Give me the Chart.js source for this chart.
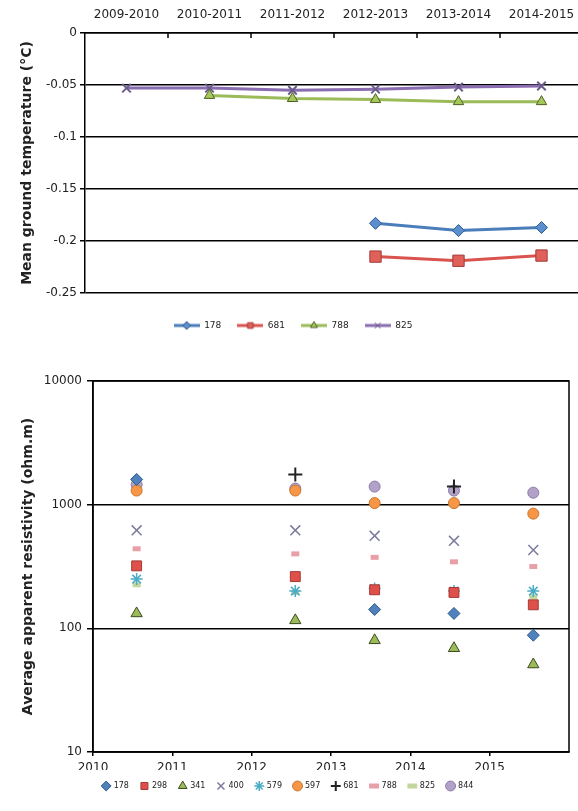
<!DOCTYPE html>
<html><head><meta charset="utf-8">
<script src="https://cdn.jsdelivr.net/npm/chart.js@4.4.1/dist/chart.umd.min.js"></script>
<style>
html,body{margin:0;padding:0;background:#fff;width:578px;height:811px;overflow:hidden;position:relative;}
#c1{position:absolute;left:0;top:0;}
#c2{position:absolute;left:0;top:350px;}
</style></head><body>
<canvas id="c1" width="592" height="340"></canvas>
<canvas id="c2" width="578" height="461"></canvas>
<script>
// ---------- Top chart data ----------
const seasons = ['2009-2010','2010-2011','2011-2012','2012-2013','2013-2014','2014-2015'];
const temp178 = [null, null, null, -0.183, -0.190, -0.187];
const temp681 = [null, null, null, -0.215, -0.219, -0.214];
const temp788 = [null, -0.060, -0.063, -0.064, -0.066, -0.066];
const temp825 = [-0.053, -0.053, -0.055, -0.054, -0.052, -0.051];
const tempTicks = [0, -0.05, -0.1, -0.15, -0.2, -0.25];

// ---------- Bottom chart data ----------
const measureYears = [2010.55, 2012.55, 2013.55, 2014.55, 2015.55];
const res178 = [1600, null, 142, 132, 88];
const res298 = [320, 262, 205, 195, 155];
const res341 = [132, 116, 80, 69, 51];
const res400 = [620, 620, 560, 510, 430];
const res579 = [250, 200, 210, 200, 200];
const res597 = [1300, 1300, 1030, 1030, 846];
const res681 = [null, 1750, null, 1400, null];
const res788 = [440, 400, 375, 345, 316];
const res825 = [225, 195, 215, 190, 180];
const res844 = [1450, 1350, 1400, 1300, 1250];
const yearTicks = [2010, 2011, 2012, 2013, 2014, 2015];
const resTicks = [10, 100, 1000, 10000];

const TICK_FONT = {family: 'DejaVu Sans', size: 12};
const TITLE_FONT = {family: 'DejaVu Sans', size: 14, weight: 'bold'};
const TXT = '#222';

// legend icon: line with marker in the middle
function legendIcon(line, style, fill, stroke, r) {
  const c = document.createElement('canvas');
  c.width = 26; c.height = 12;
  const g = c.getContext('2d');
  g.strokeStyle = line; g.lineWidth = 3;
  g.beginPath(); g.moveTo(0, 6); g.lineTo(26, 6); g.stroke();
  g.fillStyle = fill; g.strokeStyle = stroke; g.lineWidth = 1;
  Chart.helpers.drawPoint(g, {pointStyle: style, radius: r, borderWidth: 1, rotation: 0}, 13, 6);
  return c;
}

const topSeries = [
  {label: '178', data: temp178, line: '#4a7ebb', style: 'rectRot', fill: '#5b8fd0', stroke: '#2f5a8a', r: 6},
  {label: '681', data: temp681, line: '#d9534f', style: 'rect', fill: '#e0605a', stroke: '#a33a36', r: 8},
  {label: '788', data: temp788, line: '#9bbb59', style: 'triangle', fill: '#a5c85a', stroke: '#4d5f26', r: 6},
  {label: '825', data: temp825, line: '#8a6cb0', style: 'crossRot', fill: '#8064a2', stroke: '#6a5a8a', r: 6}
];
const topIcons = topSeries.map(s => legendIcon(s.line, s.style, s.fill, s.stroke, 4));

const innerTicks = {
  id: 'innerTicks',
  afterDraw(chart) {
    const sx = chart.scales.x, ca = chart.chartArea, ctx = chart.ctx;
    const step = sx.getPixelForValue(1) - sx.getPixelForValue(0);
    ctx.save(); ctx.strokeStyle = '#000'; ctx.lineWidth = 1.5;
    for (let i = 0; i < seasons.length; i++) {
      const x = sx.getPixelForValue(i) + step / 2;
      ctx.beginPath(); ctx.moveTo(x, ca.top); ctx.lineTo(x, ca.top + 5); ctx.stroke();
    }
    ctx.restore();
  }
};

new Chart(document.getElementById('c1'), {
  type: 'line',
  data: {
    labels: seasons,
    datasets: topSeries.map(s => ({
      label: s.label, data: s.data, xAxisID: 'x', yAxisID: 'y',
      borderColor: s.line, backgroundColor: s.fill, borderWidth: 3, tension: 0,
      pointStyle: s.style, pointRadius: s.r, pointBackgroundColor: s.fill,
      pointBorderColor: s.stroke, pointBorderWidth: s.style === 'crossRot' ? 2 : 1
    }))
  },
  options: {
    responsive: false, animation: false, devicePixelRatio: 1,
    layout: {padding: {top: 0, right: 6, bottom: 0, left: 0}},
    plugins: {
      tooltip: {enabled: false},
      legend: {
        position: 'bottom',
        labels: {
          usePointStyle: true, pointStyleWidth: 26, font: {family: 'DejaVu Sans', size: 9}, color: TXT, padding: 16,
          generateLabels(chart) {
            const items = Chart.defaults.plugins.legend.labels.generateLabels(chart);
            items.forEach((it, i) => { it.pointStyle = topIcons[i]; });
            return items;
          }
        }
      }
    },
    scales: {
      x: {
        type: 'category', position: 'top', offset: true, labels: seasons,
        grid: {display: false, drawOnChartArea: false, drawTicks: false},
        border: {display: true, color: '#000', width: 1.5},
        ticks: {font: TICK_FONT, color: TXT, padding: 11, maxRotation: 0, autoSkip: false},
        afterFit(s) { s.height = 33; }
      },
      xb: {
        type: 'category', position: 'bottom', labels: seasons, display: true,
        grid: {display: false}, border: {display: false}, ticks: {display: false},
        afterFit(s) { s.height = 12; }
      },
      y: {
        min: -0.25, max: 0,
        afterBuildTicks(s) { s.ticks = tempTicks.map(v => ({value: v})); },
        ticks: {font: TICK_FONT, color: TXT, padding: 3, callback: v => String(Number(v.toFixed(2)))},
        grid: {color: '#000', lineWidth: 1.5, tickLength: 5},
        border: {color: '#000', width: 1.5},
        title: {display: true, text: 'Mean ground temperature (°C)', font: TITLE_FONT, color: TXT, padding: {top: 19, bottom: 0}},
        afterFit(s) { s.width = 85; }
      }
    }
  },
  plugins: [innerTicks]
});

// ---------- Bottom chart ----------
const botSeries = [
  {label: '178', vals: res178, style: 'rectRot', bg: '#4f81bd', bc: '#2f5a8a', r: 6, bw: 1},
  {label: '298', vals: res298, style: 'rect', bg: '#e0504a', bc: '#a33a36', r: 7, bw: 1},
  {label: '341', vals: res341, style: 'triangle', bg: '#9bbb59', bc: '#3d4a20', r: 6.5, bw: 1},
  {label: '400', vals: res400, style: 'crossRot', bg: '#7f7fa0', bc: '#7a7a9c', r: 7, bw: 1.5},
  {label: '579', vals: res579, style: 'star', bg: '#4bacc6', bc: '#4bacc6', r: 6, bw: 1.5},
  {label: '597', vals: res597, style: 'circle', bg: '#f79646', bc: '#c8762f', r: 5.5, bw: 1},
  {label: '681', vals: res681, style: 'cross', bg: '#000', bc: '#222', r: 7, bw: 2},
  {label: '788', vals: res788, style: 'line', bg: '#e8a0a8', bc: '#e8a0a8', r: 4, bw: 5},
  {label: '825', vals: res825, style: 'line', bg: '#c3d69b', bc: '#c3d69b', r: 4, bw: 5},
  {label: '844', vals: res844, style: 'circle', bg: '#b3a2c7', bc: '#8a7aa8', r: 5.5, bw: 1}
];

const frame = {
  id: 'frame',
  afterDraw(chart) {
    const ca = chart.chartArea, ctx = chart.ctx;
    ctx.save(); ctx.strokeStyle = '#000'; ctx.lineWidth = 1.5;
    ctx.strokeRect(ca.left, ca.top, ca.right - ca.left, ca.bottom - ca.top);
    ctx.restore();
  }
};

new Chart(document.getElementById('c2'), {
  type: 'scatter',
  data: {
    datasets: botSeries.map(s => ({
      label: s.label,
      data: measureYears.map((x, i) => s.vals[i] == null ? null : {x: x, y: s.vals[i]}).filter(p => p),
      pointStyle: s.style, pointRadius: s.r, backgroundColor: s.bg, borderColor: s.bc, borderWidth: s.bw
    }))
  },
  options: {
    responsive: false, animation: false, devicePixelRatio: 1,
    layout: {padding: {top: 31, right: 2, bottom: 11, left: 0}},
    plugins: {
      tooltip: {enabled: false},
      legend: {
        position: 'bottom',
        labels: {usePointStyle: true, boxWidth: 7, boxHeight: 7, font: {family: 'DejaVu Sans', size: 8}, color: TXT, padding: 12}
      }
    },
    scales: {
      x: {
        type: 'linear', min: 2010, max: 2016, position: 'bottom',
        afterBuildTicks(s) { s.ticks = yearTicks.map(v => ({value: v})); },
        ticks: {font: TICK_FONT, color: TXT, padding: 5, maxRotation: 0, callback: v => String(v)},
        grid: {drawOnChartArea: false, drawTicks: true, tickLength: 4, color: '#000', lineWidth: 1.5},
        border: {color: '#000', width: 1.5},
        afterFit(s) { s.height = 18; }
      },
      y: {
        type: 'logarithmic', min: 10, max: 10000,
        afterBuildTicks(s) { s.ticks = resTicks.map(v => ({value: v})); },
        ticks: {font: TICK_FONT, color: TXT, padding: 5, callback: v => String(v)},
        grid: {color: '#000', lineWidth: 1.5, tickLength: 6},
        border: {color: '#000', width: 1.5},
        title: {display: true, text: 'Average apparent resistivity (ohm.m)', font: TITLE_FONT, color: TXT, padding: {top: 20, bottom: 0}},
        afterFit(s) { s.width = 93; }
      }
    }
  },
  plugins: [frame]
});
</script>
</body></html>
